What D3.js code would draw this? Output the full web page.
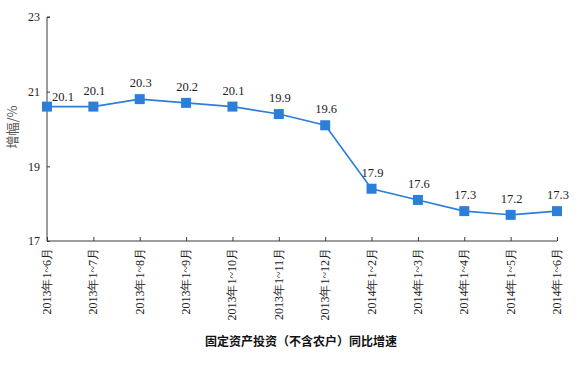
<!DOCTYPE html>
<html><head><meta charset="utf-8">
<script src="https://cdn.jsdelivr.net/npm/d3@7"></script>
<style>
html,body{margin:0;padding:0;background:#fff;}
svg{display:block;}
</style></head>
<body>
<svg id="chart" width="579" height="366"></svg>
<script>
// categories (x axis)
const categories = ["2013年1~6月","2013年1~7月","2013年1~8月","2013年1~9月","2013年1~10月","2013年1~11月","2013年1~12月","2014年1~2月","2014年1~3月","2014年1~4月","2014年1~5月","2014年1~6月"];
// labelled growth values (%)
const values = [20.1, 20.1, 20.3, 20.2, 20.1, 19.9, 19.6, 17.9, 17.6, 17.3, 17.2, 17.3];
// y axis tick labels
const yTicks = [17, 19, 21, 23];
const yTitle = "增幅/%";
const chartTitle = "固定资产投资（不含农户）同比增速";

const svg = d3.select("#chart");
const x0 = 47, x1 = 557, yBottom = 241, yTop = 17;
const blue = "#2b7fd9";
const axisColor = "#3a3a3a";

const x = d3.scalePoint().domain(categories).range([x0, x1]);
const y = d3.scaleLinear().domain([17, 23]).range([yBottom, yTop]);
// in the original the series is drawn about half a unit above its printed axis
const yData = d3.scaleLinear().domain([16.5, 22.5]).range([yBottom, yTop]);

// y axis
const yAxis = d3.axisRight(y).tickValues(yTicks).tickSize(3).tickFormat(d3.format("d"));
const gy = svg.append("g").attr("transform", `translate(${x0},0)`).call(yAxis);
gy.select(".domain").attr("stroke", axisColor).attr("d", `M3,${yTop}H0V${yBottom}`);
gy.selectAll(".tick line").attr("stroke", axisColor);
gy.selectAll(".tick text").attr("x", -7).attr("text-anchor", "end")
  .attr("font-family", "'Liberation Serif','DejaVu Serif',serif").attr("font-size", 12).attr("fill", "#222");

// x axis
const xAxis = d3.axisTop(x).tickSize(4).tickFormat("");
const gx = svg.append("g").attr("transform", `translate(0,${yBottom})`).call(xAxis);
gx.select(".domain").attr("stroke", axisColor).attr("d", `M${x0},0H${x1}`);
gx.selectAll(".tick line").attr("stroke", axisColor);

// rotated category labels
svg.append("g").selectAll("text").data(categories).join("text")
  .attr("transform", d => `translate(${x(d)+4},${yBottom+7}) rotate(-90)`)
  .attr("text-anchor", "end")
  .attr("font-family", "'Liberation Serif','DejaVu Serif',serif")
  .attr("font-size", 12).attr("fill", "#222")
  .text(d => d);

// line
const line = d3.line().x((d, i) => x(categories[i])).y(d => yData(d));
svg.append("path").datum(values).attr("d", line)
  .attr("fill", "none").attr("stroke", blue).attr("stroke-width", 1.6);

// markers
svg.append("g").selectAll("rect").data(values).join("rect")
  .attr("x", (d, i) => x(categories[i]) - 5)
  .attr("y", d => yData(d) - 5)
  .attr("width", 10).attr("height", 10)
  .attr("fill", blue);

// value labels
svg.append("g").selectAll("text").data(values).join("text")
  .attr("x", (d, i) => x(categories[i]) + (i === 0 ? 16 : 1))
  .attr("y", (d, i) => yData(d) - (i === 0 ? 6 : 12))
  .attr("text-anchor", "middle")
  .attr("font-family", "'Liberation Serif','DejaVu Serif',serif")
  .attr("font-size", 12.5).attr("fill", "#222")
  .text(d => d3.format(".1f")(d));

// y title
svg.append("text")
  .attr("transform", `translate(17,127) rotate(-90)`)
  .attr("text-anchor", "middle")
  .attr("font-family", "'Noto Sans CJK SC',sans-serif")
  .attr("font-size", 13).attr("fill", "#555")
  .text(yTitle);

// chart title
svg.append("text")
  .attr("x", 301).attr("y", 346)
  .attr("text-anchor", "middle")
  .attr("font-family", "'Noto Sans CJK SC',sans-serif")
  .attr("font-size", 12).attr("font-weight", "bold").attr("fill", "#111")
  .text(chartTitle);
</script>
</body></html>
